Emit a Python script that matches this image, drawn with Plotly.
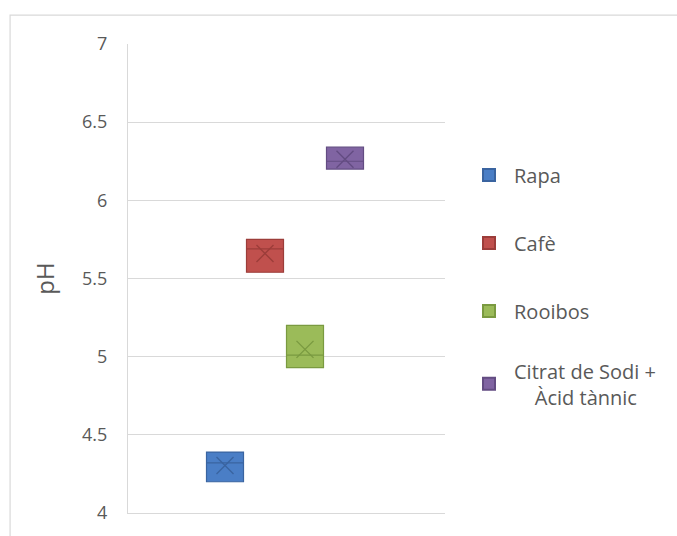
import numpy as np
import plotly.graph_objects as go

# pH measurements (three readings per sample)
series = ["Rapa", "Cafè", "Rooibos",
          "Citrat de Sodi +<br>\u00a0\u00a0\u00a0\u00a0Àcid tànnic"]
rapa = [4.20, 4.32, 4.39]
cafe = [5.54, 5.69, 5.75]
rooibos = [4.93, 5.01, 5.20]
citrat = [6.20, 6.25, 6.34]
values = [rapa, cafe, rooibos, citrat]

fills = ["#4A7EC6", "#C0504D", "#9BBB59", "#8064A2"]
edges = ["#3A64A0", "#9C3D3A", "#7A9A40", "#634C82"]

y_ticks = [4, 4.5, 5, 5.5, 6, 6.5, 7]

fig = go.Figure()

for i, (name, vals) in enumerate(zip(series, values)):
    fig.add_trace(go.Box(
        x=[i] * len(vals), y=vals, name=name,
        quartilemethod="exclusive", boxpoints=False,
        width=0.925, fillcolor=fills[i],
        line=dict(color=edges[i], width=1.2),
        whiskerwidth=0, showlegend=False, hoverinfo="y",
    ))
    # mean marker
    fig.add_trace(go.Scatter(
        x=[i], y=[float(np.mean(vals))], mode="markers",
        marker=dict(symbol="x-thin", size=17,
                    line=dict(color=edges[i], width=1.4)),
        showlegend=False, hoverinfo="y",
    ))
    # legend swatch (the two-line entry gets its own legend box)
    fig.add_trace(go.Scatter(
        x=[None], y=[None], mode="markers", name=name,
        legendgroup=f"g{i}",
        legend="legend2" if i == 3 else "legend",
        marker=dict(symbol="square", size=17, color=fills[i],
                    line=dict(color=edges[i], width=1)),
    ))

# chart-area border
fig.add_shape(type="rect", xref="paper", yref="paper",
              x0=-0.372, x1=1.9, y0=-0.3, y1=1.0616,
              line=dict(color="#D9D9D9", width=1.2), layer="below")

legend_style = dict(xanchor="left", yanchor="top",
                    font=dict(size=20, color="#595959"),
                    itemsizing="constant", itemwidth=40,
                    bgcolor="rgba(0,0,0,0)")

fig.update_layout(
    width=677, height=536,
    margin=dict(l=128, r=232, t=44, b=21),
    paper_bgcolor="white", plot_bgcolor="white",
    font=dict(family="Open Sans", color="#595959", size=16),
    xaxis=dict(range=[-2.425, 5.5], showticklabels=False, showgrid=False,
               zeroline=False, showline=True, linecolor="#D9D9D9",
               linewidth=1.2, ticks=""),
    yaxis=dict(range=[4, 7], tickvals=y_ticks,
               ticktext=[f"{v:g}" for v in y_ticks],
               showgrid=True, gridcolor="#D9D9D9", gridwidth=1.2,
               zeroline=False, showline=True, linecolor="#D9D9D9",
               linewidth=1.2, ticks="", ticklabelstandoff=16,
               tickfont=dict(size=18, color="#595959"),
               title=dict(text="pH", font=dict(size=24, color="#595959"),
                          standoff=20)),
    legend=dict(x=1.06, y=0.762, tracegroupgap=39, **legend_style),
    legend2=dict(x=1.06, y=0.345, **legend_style),
    showlegend=True,
)

fig.write_html("out.html")
